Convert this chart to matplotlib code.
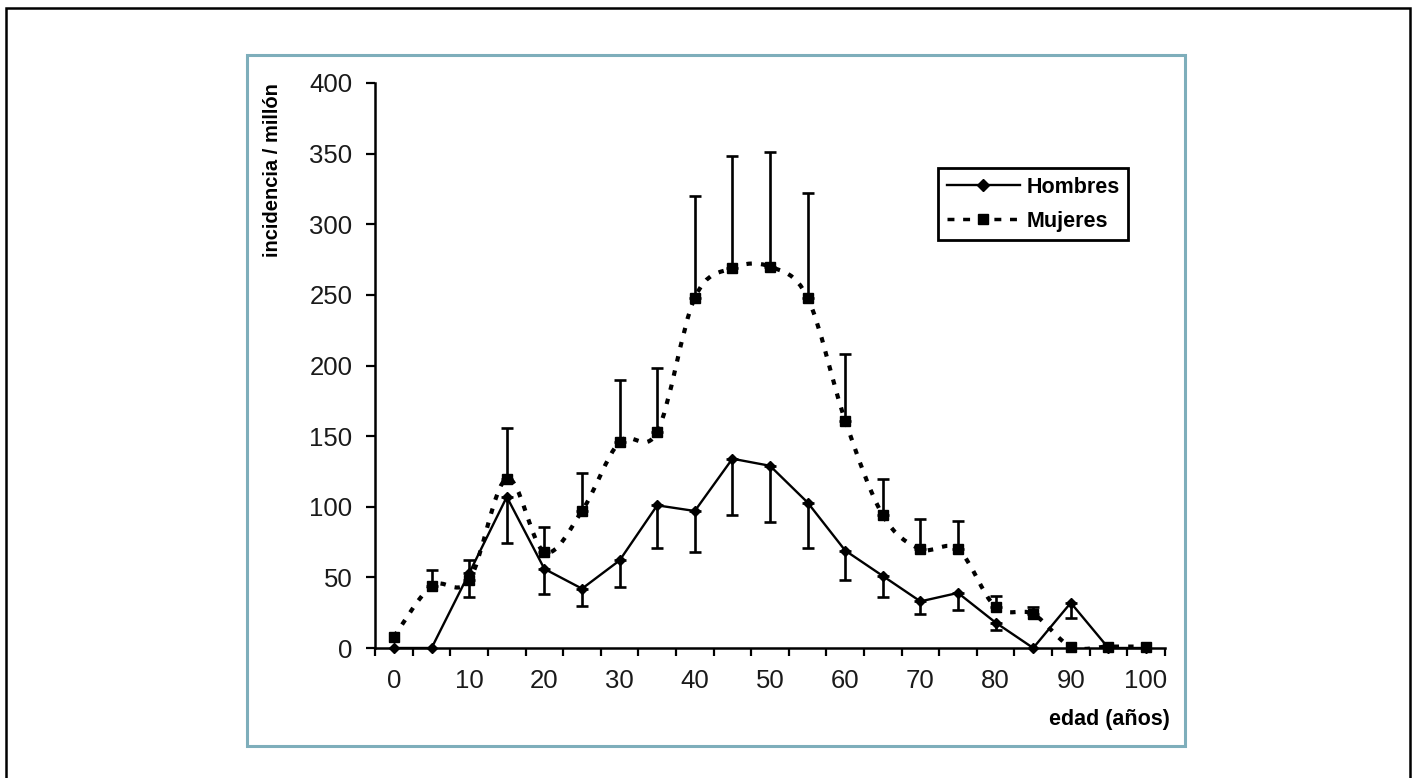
import matplotlib.pyplot as plt
import numpy as np
from matplotlib.path import Path
from matplotlib.patches import PathPatch, Rectangle
from matplotlib.lines import Line2D

plt.rcParams['font.family'] = ['Liberation Sans', 'DejaVu Sans']

# Data
edad = [0, 5, 10, 15, 20, 25, 30, 35, 40, 45, 50, 55, 60, 65, 70, 75, 80, 85, 90, 95, 100]
hombres = [0, 0, 53, 107, 56, 42, 62, 101, 97, 134, 129, 103, 69, 51, 33, 39, 18, 0, 32, 0, 0]
hombres_min = [np.nan, np.nan, 36, 74, 38, 30, 43, 71, 68, 94, 89, 71, 48, 36, 24, 27, 13, np.nan, 21, np.nan, np.nan]
mujeres = [8, 44, 48, 120, 68, 97, 146, 153, 248, 269, 270, 248, 161, 94, 70, 70, 29, 24, 1, 1, 1]
mujeres_max = [np.nan, 55, 62, 156, 86, 124, 190, 198, 320, 348, 351, 322, 208, 120, 91, 90, 37, 29, np.nan, np.nan, np.nan]

W, H = 1417, 778
fig = plt.figure(figsize=(W / 100, H / 100), dpi=100)
ax = fig.add_axes([375.2 / W, 1 - 648 / H, (1164.8 - 375.2) / W, (648 - 83) / H])

# outer frame and inner teal box
fig.add_artist(Rectangle((6 / W, -0.02), (1410 - 6) / W, 1 - 8 / H + 0.02, transform=fig.transFigure,
                         fill=False, edgecolor='black', linewidth=1.8))
fig.add_artist(Rectangle((247 / W, 1 - 746 / H), (1185 - 247) / W, (746 - 55) / H, transform=fig.transFigure,
                         fill=False, edgecolor='#7eaebb', linewidth=2.2))

# Hombres: solid line, diamonds, lower error bars
ax.plot(edad, hombres, color='black', lw=1.7, marker='D', ms=5, zorder=4, clip_on=False)
x = np.array(edad)
h = np.array(hombres, float)
hm = np.array(hombres_min, float)
ok = ~np.isnan(hm)
ax.errorbar(x[ok], h[ok], yerr=[h[ok] - hm[ok], np.zeros(ok.sum())], fmt='none',
            ecolor='black', elinewidth=1.9, capsize=4.5, capthick=1.9, zorder=3)

# Mujeres: smoothed dotted line (Catmull-Rom as bezier), squares, upper error bars
m = np.array(mujeres, float)
pts = np.column_stack([x, m])
verts = [pts[0]]
codes = [Path.MOVETO]
for i in range(len(pts) - 1):
    p0 = pts[max(i - 1, 0)]
    p1 = pts[i]
    p2 = pts[i + 1]
    p3 = pts[min(i + 2, len(pts) - 1)]
    verts += [p1 + (p2 - p0) / 6, p2 - (p3 - p1) / 6, p2]
    codes += [Path.CURVE4] * 3
ax.add_patch(PathPatch(Path(verts, codes), fill=False, edgecolor='black', lw=3,
                       linestyle=(0, (1.3, 2.2)), zorder=3))
ax.plot(edad, mujeres, linestyle='none', color='black', marker='s', ms=7.5, zorder=4, clip_on=False)
mm = np.array(mujeres_max, float)
ok = ~np.isnan(mm)
ax.errorbar(x[ok], m[ok], yerr=[np.zeros(ok.sum()), mm[ok] - m[ok]], fmt='none',
            ecolor='black', elinewidth=1.9, capsize=4.5, capthick=1.9, zorder=3)

ax.set_xlim(-2.5, 102.5)
ax.set_ylim(0, 400)
for s in ['top', 'right']:
    ax.spines[s].set_visible(False)
for s in ['left', 'bottom']:
    ax.spines[s].set_linewidth(1.8)

ax.set_yticks(range(0, 401, 50))
ax.set_xticks(range(0, 101, 10))
ax.set_xticks(np.arange(-2.5, 103, 5), minor=True)
ax.tick_params(axis='y', direction='out', length=6.5, width=1.6, labelsize=18.5, pad=10)
ax.tick_params(axis='x', which='major', length=0, labelsize=18.5, pad=15)
ax.tick_params(axis='x', which='minor', direction='out', length=6, width=1.6)
for t in ax.get_xticklabels() + ax.get_yticklabels():
    t.set_color('#1a1a1a')

fig.text(273 / W, 1 - 170 / H, 'incidencia / millón', rotation=90, ha='center', va='center',
         fontsize=14.5, fontweight='bold')
fig.text(1170 / W, 1 - 719 / H, 'edad (años)', ha='right', va='center', fontsize=15.5, fontweight='bold')

handles = [Line2D([], [], color='black', lw=1.7, marker='D', ms=6),
           Line2D([], [], color='black', lw=2.5, linestyle=(0, (2, 2.5)), marker='s', ms=7)]
leg = fig.legend(handles, ['Hombres', 'Mujeres'], loc='upper left', bbox_to_anchor=(938 / W, 1 - 168 / H),
                 bbox_transform=fig.transFigure, borderaxespad=0, fancybox=False, framealpha=1,
                 edgecolor='black', handlelength=3.4, handletextpad=0.3, labelspacing=0.6,
                 prop={'size': 15.5, 'weight': 'bold'})
leg.get_frame().set_linewidth(2)

fig.savefig('out.png', dpi=100)
